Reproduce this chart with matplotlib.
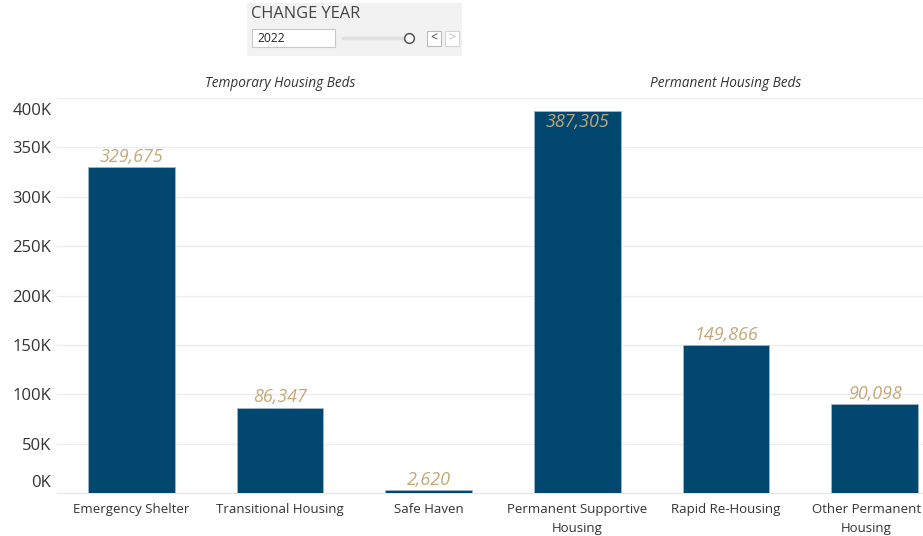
import matplotlib
matplotlib.use('Agg')
import matplotlib.pyplot as plt
import matplotlib.transforms as mtransforms
from matplotlib.patches import Rectangle

plt.rcParams['font.family'] = ['Open Sans', 'DejaVu Sans']

# data
categories = ['Emergency Shelter', 'Transitional Housing', 'Safe Haven',
              'Permanent Supportive\nHousing', 'Rapid Re-Housing', 'Other Permanent\nHousing']
beds = [329675, 86347, 2620, 387305, 149866, 90098]
groups = ['Temporary Housing Beds', 'Permanent Housing Beds']
yticks = [0, 50000, 100000, 150000, 200000, 250000, 300000, 350000, 400000]
ytick_labels = ['0K', '50K', '100K', '150K', '200K', '250K', '300K', '350K', '400K']
year = '2022'

bar_color = '#01476f'
label_color = '#c4a878'
W, H = 923, 536

fig = plt.figure(figsize=(W / 100, H / 100), dpi=100)
# axes extends past right edge like the cropped dashboard
ax = fig.add_axes([57 / W, 43 / H, (949 - 57) / W, (493 - 98) / H])

x = list(range(len(categories)))
ax.bar(x, beds, width=0.585, color=bar_color, edgecolor='#9fb6c8', linewidth=0.6, zorder=3)
ax.set_xlim(-0.5, 5.5)
ax.set_ylim(0, 400000)

ax.set_yticks(yticks)
ax.set_yticklabels(ytick_labels, fontsize=12, color='#333333')
ax.set_xticks(x)
ax.set_xticklabels(categories, fontsize=9.5, color='#333333', linespacing=1.6)
ax.tick_params(axis='both', length=0)
ax.tick_params(axis='y', pad=4)
ax.tick_params(axis='x', pad=7)

# tableau-style nudging of end labels
lbls = ax.get_yticklabels()
lbls[0].set_transform(lbls[0].get_transform() + mtransforms.ScaledTranslation(0, 12 / 100, fig.dpi_scale_trans))
lbls[-1].set_transform(lbls[-1].get_transform() + mtransforms.ScaledTranslation(0, -11 / 100, fig.dpi_scale_trans))
# last category label sits against the right edge
xl = ax.get_xticklabels()
xl[-1].set_transform(xl[-1].get_transform() + mtransforms.ScaledTranslation(-8 / 100, 0, fig.dpi_scale_trans))

ax.grid(axis='y', color='#ececec', linewidth=0.9, zorder=0)
for s in ['top', 'right', 'left']:
    ax.spines[s].set_visible(False)
ax.spines['bottom'].set_color('#e6e6e6')

# value labels
for i, v in enumerate(beds):
    txt = f'{v:,}'
    if v > 380000:
        ax.text(i, v - 3000, txt, ha='center', va='top', fontsize=13, style='italic', color=label_color, zorder=4)
    else:
        ax.text(i, v + 1500, txt, ha='center', va='bottom', fontsize=13, style='italic', color=label_color, zorder=4)

# pane headers
ax.text(1, 1.037, groups[0], transform=ax.get_xaxis_transform(), ha='center', va='center',
        fontsize=9.8, style='italic', color='#333333')
ax.text(4, 1.037, groups[1], transform=ax.get_xaxis_transform(), ha='center', va='center',
        fontsize=9.8, style='italic', color='#333333')

# year filter widget
def px(xp, yp):
    return xp / W, 1 - yp / H

fig.patches.append(Rectangle(px(247, 56), 215 / W, 53 / H, transform=fig.transFigure,
                             facecolor='#f2f2f2', edgecolor='none'))
fig.text(*px(251, 14), 'CHANGE YEAR', fontsize=11.8, color='#444444', va='center', ha='left')
fig.patches.append(Rectangle(px(252, 47), 83 / W, 18 / H, transform=fig.transFigure,
                             facecolor='white', edgecolor='#c8c8c8', linewidth=0.8))
fig.text(*px(257, 38), year, fontsize=8.7, color='#222222', va='center', ha='left')
fig.lines.append(plt.Line2D([343 / W, 405 / W], [1 - 38 / H] * 2, transform=fig.transFigure,
                            color='#e0e0e0', linewidth=2.5))
fig.lines.append(plt.Line2D([409 / W], [1 - 38 / H], transform=fig.transFigure, marker='o',
                            markersize=7, markerfacecolor='white', markeredgecolor='#555555',
                            markeredgewidth=1.1))
fig.patches.append(Rectangle(px(427, 46), 14 / W, 15 / H, transform=fig.transFigure,
                             facecolor='white', edgecolor='#bbbbbb', linewidth=0.8))
fig.patches.append(Rectangle(px(445, 46), 14 / W, 15 / H, transform=fig.transFigure,
                             facecolor='white', edgecolor='#d5d5d5', linewidth=0.8))
fig.text(*px(434, 38), '<', fontsize=9, color='#444444', va='center', ha='center')
fig.text(*px(452, 38), '>', fontsize=9, color='#bbbbbb', va='center', ha='center')

fig.savefig('out.png', dpi=100)
